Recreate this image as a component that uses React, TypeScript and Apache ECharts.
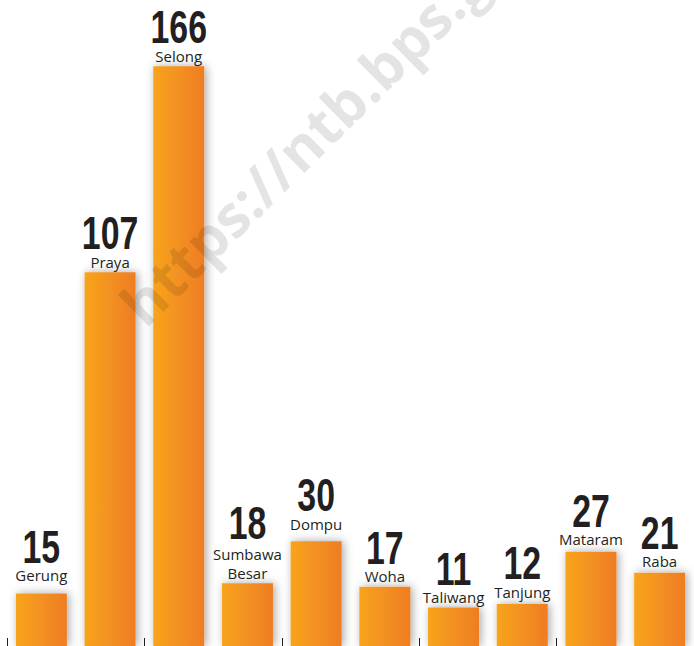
import React, { useEffect, useRef } from "react";
import * as echarts from "echarts";

const categories = ["Gerung", "Praya", "Selong", "Sumbawa Besar", "Dompu", "Woha", "Taliwang", "Tanjung", "Mataram", "Raba"];
const values = [15, 107, 166, 18, 30, 17, 11, 12, 27, 21];
const watermark = "https://ntb.bps.go.id";

// extra label lift per bar (styling only)
const labelLift = [8, 0, 0, 0, 7, 0, 0, 2, 2, 1];

export default function App() {
  const ref = useRef<HTMLDivElement>(null);
  useEffect(() => {
    if (!ref.current) return;
    const chart = echarts.init(ref.current, null, { renderer: "svg" });
    const gradient = new echarts.graphic.LinearGradient(0, 0, 1, 0, [
      { offset: 0, color: "#F8A41E" },
      { offset: 1, color: "#EE7D23" },
    ]);
    const ink = "#231f20";
    chart.setOption({
      animation: false,
      backgroundColor: "#ffffff",
      grid: { left: 7, width: 693, top: 0, bottom: 0, containLabel: false },
      xAxis: {
        type: "category",
        data: categories,
        axisLine: { show: false },
        axisLabel: { show: false },
        axisTick: { show: true, inside: true, length: 8, lineStyle: { color: ink, width: 1 } },
      },
      yAxis: { type: "value", min: 0, max: 185, show: false, splitLine: { show: false } },
      series: [
        {
          type: "bar",
          barWidth: 51,
          data: values,
          itemStyle: {
            color: gradient,
            shadowBlur: 10,
            shadowOffsetX: 2,
            shadowColor: "rgba(0,0,0,0.35)",
          },
        },
        {
          type: "custom",
          z: 5,
          silent: true,
          data: values.map((v, i) => [i, v]),
          renderItem: (params: any, api: any) => {
            const i = api.value(0);
            const v = api.value(1);
            const pt = api.coord([i, v]);
            const name = categories[i];
            const lines = name.length > 10 ? name.split(" ") : [name];
            const bottom = pt[1] - 1 - labelLift[i];
            const nameTop = bottom - 19 * lines.length;
            return {
              type: "group",
              children: [
                {
                  type: "text",
                  x: pt[0],
                  y: bottom,
                  style: {
                    text: lines.join("\n"),
                    font: "15px 'Open Sans', sans-serif",
                    fill: ink,
                    align: "center",
                    verticalAlign: "bottom",
                    lineHeight: 19,
                  },
                },
                {
                  type: "text",
                  x: pt[0],
                  y: nameTop - 19 - (lines.length > 1 ? 2 : 0),
                  scaleX: 0.72,
                  style: {
                    text: String(v),
                    font: "bold 47px 'Liberation Sans', Arial, sans-serif",
                    fill: ink,
                    align: "center",
                    verticalAlign: "middle",
                  },
                },
              ],
            };
          },
        },
      ],
      graphic: [
        {
          type: "text",
          x: 150,
          y: 334,
          rotation: (44.5 * Math.PI) / 180,
          z: 100,
          silent: true,
          style: {
            text: watermark,
            font: "bold 58px 'Open Sans', sans-serif",
            fill: "rgba(0,0,0,0.105)",
            align: "left",
            verticalAlign: "bottom",
          },
        },
      ],
    });
    return () => chart.dispose();
  }, []);
  return (
    <div
      ref={ref}
      style={{ position: "fixed", left: 0, top: 0, width: 694, height: 646 }}
    />
  );
}
